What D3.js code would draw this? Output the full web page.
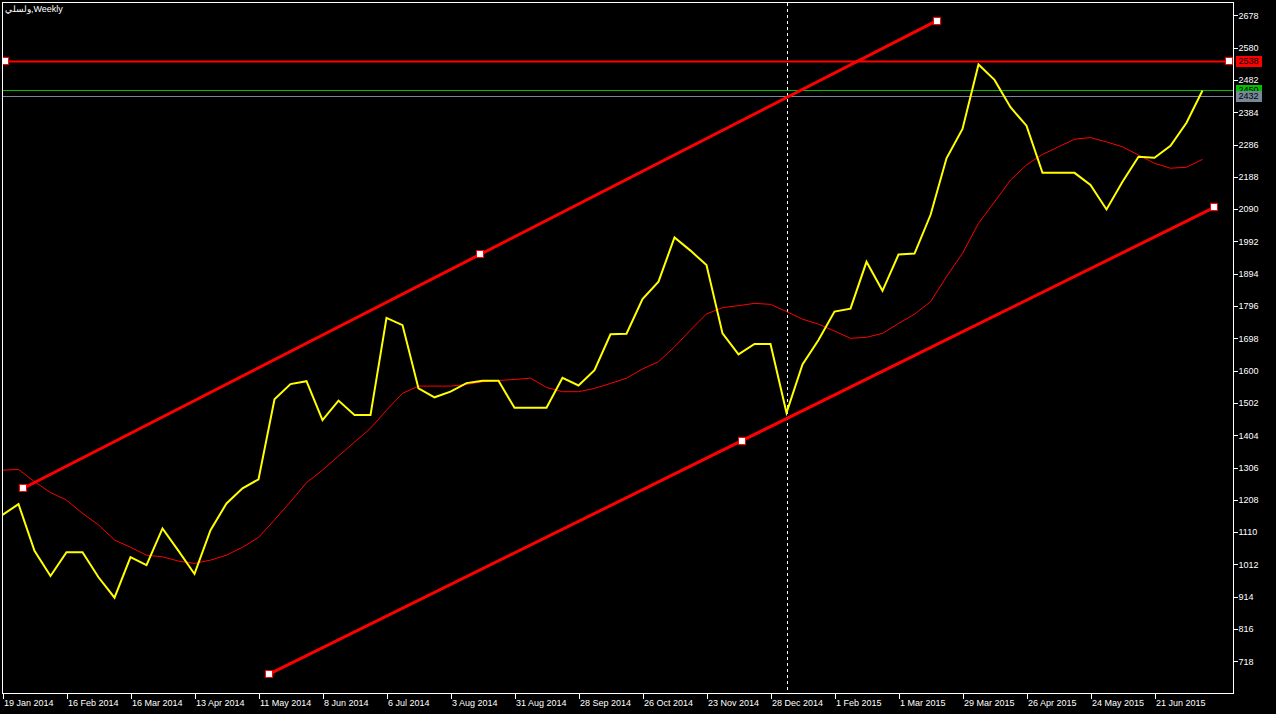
<!DOCTYPE html>
<html>
<head>
<meta charset="utf-8">
<script src="https://cdn.jsdelivr.net/npm/d3@7"></script>
<style>
  html, body { margin: 0; padding: 0; background: #000; }
  svg { display: block; }
  text { font-family: "Liberation Sans", Arial, sans-serif; }
</style>
</head>
<body>
<svg id="chart" width="1276" height="714"></svg>
<script>
// ---------- data ----------
const title = "\u0648\u0644\u0633\u0644\u064A,Weekly";

const weeks = [
  "19 Jan 2014","26 Jan 2014","2 Feb 2014","9 Feb 2014","16 Feb 2014","23 Feb 2014","2 Mar 2014","9 Mar 2014",
  "16 Mar 2014","23 Mar 2014","30 Mar 2014","6 Apr 2014","13 Apr 2014","20 Apr 2014","27 Apr 2014","4 May 2014",
  "11 May 2014","18 May 2014","25 May 2014","1 Jun 2014","8 Jun 2014","15 Jun 2014","22 Jun 2014","29 Jun 2014",
  "6 Jul 2014","13 Jul 2014","20 Jul 2014","27 Jul 2014","3 Aug 2014","10 Aug 2014","17 Aug 2014","24 Aug 2014",
  "31 Aug 2014","7 Sep 2014","14 Sep 2014","21 Sep 2014","28 Sep 2014","5 Oct 2014","12 Oct 2014","19 Oct 2014",
  "26 Oct 2014","2 Nov 2014","9 Nov 2014","16 Nov 2014","23 Nov 2014","30 Nov 2014","7 Dec 2014","14 Dec 2014",
  "28 Dec 2014","4 Jan 2015","11 Jan 2015","18 Jan 2015","1 Feb 2015","8 Feb 2015","15 Feb 2015","22 Feb 2015",
  "1 Mar 2015","8 Mar 2015","15 Mar 2015","22 Mar 2015","29 Mar 2015","5 Apr 2015","12 Apr 2015","19 Apr 2015",
  "26 Apr 2015","3 May 2015","10 May 2015","17 May 2015","24 May 2015","31 May 2015","7 Jun 2015","14 Jun 2015",
  "21 Jun 2015","28 Jun 2015","5 Jul 2015","12 Jul 2015"
];

const closePrice = [
  1162,1195,1053,977,1049,1049,973,911,1034,1010,1121,1053,983,1116,1197,1243,
  1270,1513,1559,1568,1450,1509,1465,1465,1760,1738,1546,1519,1536,1562,1569,1569,
  1487,1487,1487,1578,1555,1601,1710,1712,1817,1870,2004,1964,1920,1713,1649,1681,
  1681,1472,1619,1693,1779,1788,1930,1842,1952,1955,2072,2244,2333,2529,2482,2399,
  2343,2200,2200,2200,2163,2089,2173,2249,2246,2282,2352,2450
];

const movingAvg = [
  1298,1300,1263,1230,1207,1167,1132,1086,1064,1040,1035,1022,1015,1025,1040,1064,
  1094,1147,1202,1260,1298,1341,1383,1425,1480,1531,1553,1553,1553,1558,1566,1570,
  1573,1577,1549,1536,1536,1546,1561,1577,1605,1627,1672,1723,1772,1791,1797,1804,
  1801,1779,1756,1741,1720,1698,1701,1713,1743,1771,1809,1885,1956,2047,2112,2178,
  2224,2256,2279,2302,2307,2294,2279,2254,2229,2214,2217,2241
];

const yTicks = [2678,2580,2482,2384,2286,2188,2090,1992,1894,1796,1698,1600,1502,1404,1306,1208,1110,1012,914,816,718];
const xTickIdx = [0,4,8,12,16,20,24,28,32,36,40,44,48,52,56,60,64,68,72];

// channel trend lines: [barIndex, price] anchors
const upperTrend = [[1.3, 1243], [58.4, 2662]];
const lowerTrend = [[16.66, 679], [75.74, 2095]];
// horizontal resistance line
const resistLevel = 2538;
const resistAnchors = [0.15, 76.67];
const bidLevel = 2450;
const askLevel = 2432;
const markerBar = 49;

// ---------- drawing ----------
const svg = d3.select("#chart");
const pLeft = 2.5, pRight = 1233.5, pTop = 2.5, pBottom = 693.5;

const x = d3.scaleLinear().domain([0, weeks.length - 1]).range([2.5, 2.5 + 16 * (weeks.length - 1)]);
const y = d3.scaleLinear().domain([718, 2678]).range([661.3, 15.3]);

svg.append("rect").attr("width", 1276).attr("height", 714).attr("fill", "#000");

svg.append("clipPath").attr("id", "plotclip")
  .append("rect").attr("x", pLeft).attr("y", pTop).attr("width", pRight - pLeft).attr("height", pBottom - pTop);

const plot = svg.append("g").attr("clip-path", "url(#plotclip)");

// dashed vertical marker
plot.append("line")
  .attr("x1", Math.round(x(markerBar)) + 0.5).attr("x2", Math.round(x(markerBar)) + 0.5)
  .attr("y1", pTop).attr("y2", pBottom)
  .attr("stroke", "#fff").attr("stroke-width", 1).attr("stroke-dasharray", "3,3")
  .attr("shape-rendering", "crispEdges");

// bid / ask lines
plot.append("line").attr("x1", pLeft).attr("x2", pRight)
  .attr("y1", Math.round(y(askLevel)) + 0.5).attr("y2", Math.round(y(askLevel)) + 0.5)
  .attr("stroke", "#778899").attr("stroke-width", 1).attr("shape-rendering", "crispEdges");
plot.append("line").attr("x1", pLeft).attr("x2", pRight)
  .attr("y1", Math.round(y(bidLevel)) + 0.5).attr("y2", Math.round(y(bidLevel)) + 0.5)
  .attr("stroke", "#00c000").attr("stroke-width", 1).attr("shape-rendering", "crispEdges");

// moving average
const line = d3.line().x((d, i) => x(i)).y(d => y(d));
plot.append("path").datum(movingAvg).attr("d", line)
  .attr("fill", "none").attr("stroke", "#ff0000").attr("stroke-width", 1);

// price line
plot.append("path").datum(closePrice).attr("d", line)
  .attr("fill", "none").attr("stroke", "#ffff00").attr("stroke-width", 2)
  .attr("stroke-linejoin", "miter");

// horizontal resistance line
plot.append("line").attr("x1", pLeft).attr("x2", pRight)
  .attr("y1", y(resistLevel)).attr("y2", y(resistLevel))
  .attr("stroke", "#ff0000").attr("stroke-width", 2);

// trend lines
[upperTrend, lowerTrend].forEach(t => {
  plot.append("line")
    .attr("x1", x(t[0][0])).attr("y1", y(t[0][1]))
    .attr("x2", x(t[1][0])).attr("y2", y(t[1][1]))
    .attr("stroke", "#ff0000").attr("stroke-width", 3);
});

// anchor markers
const markers = [];
[upperTrend, lowerTrend].forEach(t => {
  markers.push([x(t[0][0]), y(t[0][1])]);
  markers.push([(x(t[0][0]) + x(t[1][0])) / 2, (y(t[0][1]) + y(t[1][1])) / 2]);
  markers.push([x(t[1][0]), y(t[1][1])]);
});
resistAnchors.forEach(b => markers.push([x(b), y(resistLevel)]));
plot.selectAll("rect.mk").data(markers).enter().append("rect")
  .attr("class", "mk")
  .attr("x", d => Math.round(d[0]) - 3.5).attr("y", d => Math.round(d[1]) - 3.5)
  .attr("width", 7).attr("height", 7)
  .attr("fill", "#fff").attr("stroke", "#ff0000").attr("stroke-width", 1)
  .attr("shape-rendering", "crispEdges");

// frame
svg.append("rect").attr("x", pLeft).attr("y", pTop).attr("width", pRight - pLeft).attr("height", pBottom - pTop)
  .attr("fill", "none").attr("stroke", "#fff").attr("stroke-width", 1).attr("shape-rendering", "crispEdges");

// y axis
const yAxis = svg.append("g").attr("transform", `translate(${pRight},0)`)
  .call(d3.axisRight(y).tickValues(yTicks).tickSize(4).tickPadding(1).tickFormat(d => d));
yAxis.select(".domain").remove();
yAxis.selectAll("line").attr("stroke", "#fff").attr("shape-rendering", "crispEdges");
yAxis.selectAll("text").attr("fill", "#fff").style("font-size", "9px")
  .style("font-family", "'Liberation Sans', Arial, sans-serif");

// x axis
const xAxis = svg.append("g").attr("transform", `translate(0,${pBottom})`)
  .call(d3.axisBottom(x).tickValues(xTickIdx).tickSize(5).tickPadding(1).tickFormat(i => weeks[i]));
xAxis.select(".domain").remove();
xAxis.selectAll("line").attr("stroke", "#fff").attr("shape-rendering", "crispEdges");
xAxis.selectAll("text").attr("fill", "#fff").attr("text-anchor", "start").attr("x", 1)
  .style("font-size", "9px").style("font-family", "'Liberation Sans', Arial, sans-serif");

// price labels on the axis
const priceTags = [
  { v: resistLevel, fill: "#ff0000" },
  { v: bidLevel, fill: "#00c000" },
  { v: askLevel, fill: "#778899" }
];
priceTags.forEach(p => {
  const cy = Math.round(y(p.v));
  svg.append("rect").attr("x", pRight + 2.5).attr("y", cy - 5.5).attr("width", 26).attr("height", 11)
    .attr("fill", p.fill).attr("shape-rendering", "crispEdges");
  svg.append("text").attr("x", pRight + 5).attr("y", cy).attr("dy", "0.34em")
    .attr("fill", "#000").style("font-size", "9px").text(p.v);
});

// title
svg.append("text").attr("x", 5).attr("y", 12).attr("fill", "#fff")
  .style("font-size", "9px").text(title);
</script>
</body>
</html>
